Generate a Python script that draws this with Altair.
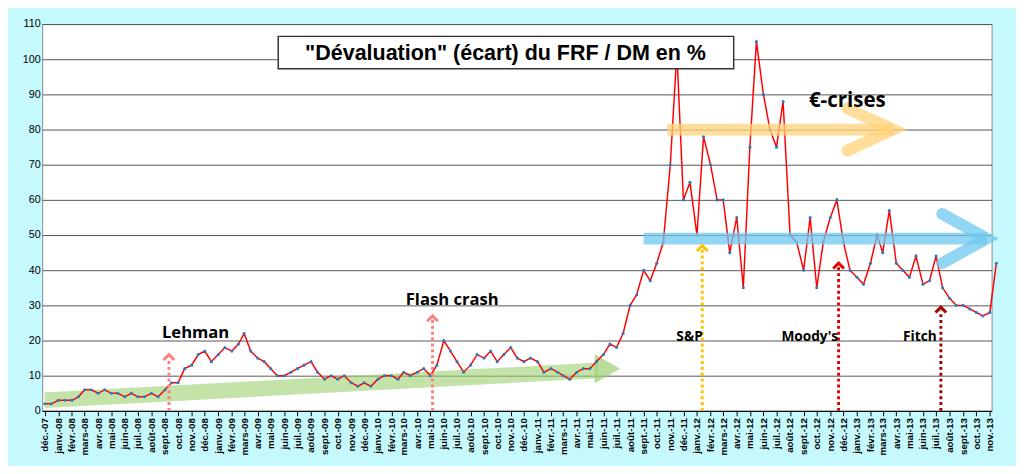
import altair as alt
import pandas as pd

# two readings per month (1st and 16th), from Dec 2007 to Nov 2013
vals = [
 2,2,                                    # 2007-12
 3,3, 3,4, 6,6, 5,6, 5,5, 4,5, 4,4, 5,4, 6,8, 8,12, 13,16, 17,14,   # 2008
 16,18, 17,19, 22,17, 15,14, 12,10, 10,11, 12,13, 14,11, 9,10, 9,10, 8,7, 8,7,  # 2009
 9,10, 10,9, 11,10, 11,12, 10,13, 20,17, 14,11, 13,16, 15,17, 14,16, 18,15, 14,15,  # 2010
 14,11, 12,11, 10,9, 11,12, 12,14, 16,19, 18,22, 30,33, 40,37, 42,48, 70,102, 60,65,  # 2011
 50,78, 70,60, 60,45, 55,35, 75,105, 90,80, 75,88, 50,48, 40,55, 35,48, 55,60, 48,40,  # 2012
 38,36, 42,50, 45,57, 42,40, 38,44, 36,37, 44,35, 32,30, 30,29, 28,27, 28,42,  # 2013
]
months = pd.date_range("2007-12-01", periods=len(vals)//2, freq="MS")
dates = []
for m in months:
    dates += [m, m + pd.Timedelta(days=15)]
df = pd.DataFrame({"date": dates, "v": vals})

X = alt.X("date:T", scale=alt.Scale(domain=["2007-11-25", "2013-11-05"]),
          axis=alt.Axis(title=None, grid=False, labelAngle=270, labelFontWeight="bold",
                        labelFontSize=10, labelColor="black", domainColor="black", tickColor="black",
                        tickCount={"interval": "month", "step": 1}, labelOverlap=False,
                        labelExpr="['janv.','févr.','mars','avr.','mai','juin','juil.','août','sept.','oct.','nov.','déc.'][month(datum.value)] + '-' + timeFormat(datum.value,'%y')"))
Y = alt.Y("v:Q", scale=alt.Scale(domain=[0, 110], nice=False),
          axis=alt.Axis(title=None, values=list(range(0, 111, 10)), gridColor="#555", gridWidth=1,
                        labelOverlap=False, labelFontSize=11, labelColor="black", domain=False, ticks=False))

def seg(d, color, width, opacity=1, dash=None, cap="butt"):
    kw = dict(color=color, strokeWidth=width, opacity=opacity, strokeCap=cap)
    if dash:
        kw["strokeDash"] = dash
    return alt.Chart(pd.DataFrame(d)).mark_line(**kw).encode(x=X, y=Y, order="o:Q")

def pts(dl, vl):
    return {"date": dl, "v": vl, "o": list(range(len(dl)))}

layers = []
layers.append(seg(pts(["2007-12-01", "2011-05-20"], [3, 11.5]), "#9bd070", 16, 0.6))
layers.append(alt.Chart(pd.DataFrame({"date": ["2011-06-10"], "v": [12]})).mark_point(
    shape="triangle-right", size=900, filled=True, color="#9bd070", opacity=0.7).encode(x=X, y=Y))
layers.append(alt.Chart(df).mark_line(color="red", strokeWidth=1.5,
              point=alt.OverlayMarkDef(color="#2b7bc4", size=10, filled=True)).encode(x=X, y=Y))
layers.append(seg(pts(["2011-10-25", "2013-03-25"], [80, 80]), "#ffd27a", 12, 0.75))
layers.append(seg(pts(["2012-12-10", "2013-03-25", "2012-12-10"], [86, 80, 74]), "#ffd27a", 12, 0.75, cap="round"))
layers.append(seg(pts(["2011-09-01", "2013-10-25"], [49, 49]), "#6ec8f0", 12, 0.75))
layers.append(seg(pts(["2013-07-15", "2013-10-25", "2013-07-15"], [56, 49, 42]), "#6ec8f0", 12, 0.75, cap="round"))

ann = [("2008-09-10", 16, "#ff8080"), ("2010-05-06", 27, "#ff8080"), ("2012-01-13", 47, "#ffc000"),
       ("2012-11-20", 42, "#e00000"), ("2013-07-12", 29.5, "#a00000")]
for d, top, c in ann:
    layers.append(seg(pts([d, d], [0, top - 1]), c, 3, dash=[3, 3]))
    layers.append(alt.Chart(pd.DataFrame({"date": [d], "v": [top]})).mark_point(
        shape="M-1,1L0,0L1,1", size=120, strokeWidth=3, color=c, filled=False, opacity=1).encode(x=X, y=Y))

labels = pd.DataFrame({
    "date": ["2008-11-10", "2010-06-20", "2011-12-15", "2012-09-15", "2013-05-25", "2012-12-10"],
    "v": [22, 31.5, 21, 21, 21, 88],
    "t": ["Lehman", "Flash crash", "S&P", "Moody's", "Fitch", "€-crises"],
    "s": [17, 17, 14, 14, 14, 21],
})
layers.append(alt.Chart(labels).mark_text(font="Open Sans", fontWeight="bold", color="black").encode(
    x=X, y=Y, text="t:N", size=alt.Size("s:Q", scale=None, legend=None)))

layers.append(alt.Chart(pd.DataFrame({"date": ["2009-05-18"], "d2": ["2012-03-25"], "v": [106.5], "v2": [97.3]}))
              .mark_rect(fill="white", stroke="#333", strokeWidth=1.5).encode(x=X, x2="d2:T", y=Y, y2="v2:Q"))
layers.append(alt.Chart(pd.DataFrame({"date": ["2010-10-20"], "v": [101.8]})).mark_text(
    text='"Dévaluation" (écart) du FRF / DM en %', font="Liberation Sans", fontWeight="bold",
    fontSize=22, color="black").encode(x=X, y=Y))

chart = alt.layer(*layers).properties(width=972, height=396, background="#c6f9fd").configure_view(
    fill="white", stroke="#888")
chart.save("out.html", embed_options={"renderer": "svg", "actions": False})
